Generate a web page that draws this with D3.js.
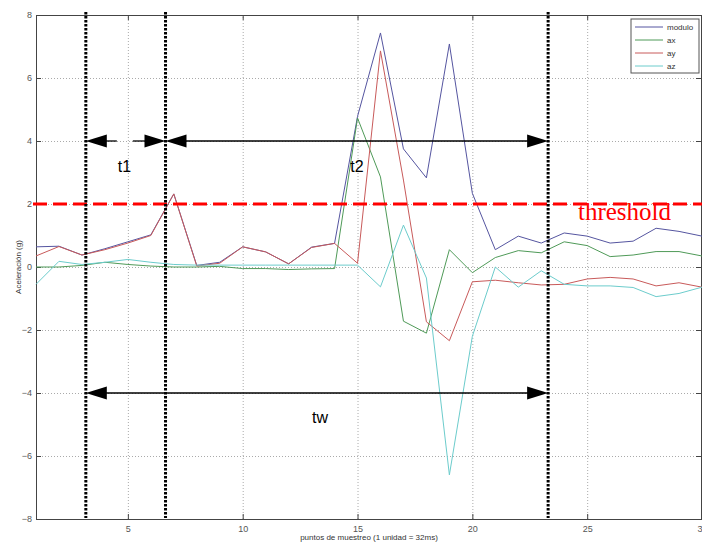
<!DOCTYPE html>
<html>
<head>
<meta charset="utf-8">
<script src="https://cdn.jsdelivr.net/npm/d3@7"></script>
<style>
  body { margin: 0; background: #fff; }
  svg { font-family: "Liberation Sans", Arial, sans-serif; }
</style>
</head>
<body>
<div id="chart"></div>
<script>
// sample index (1 unidad = 32ms)
var samples = [1,2,3,4,5,6,7,8,9,10,11,12,13,14,15,16,17,18,19,20,21,22,23,24,25,26,27,28,29,30];
var modulo = [0.64,0.66,0.38,0.58,0.80,1.02,2.32,0.05,0.15,0.64,0.48,0.10,0.63,0.75,4.78,7.43,3.75,2.83,7.08,2.34,0.55,0.98,0.76,1.08,0.98,0.76,0.82,1.23,1.13,0.98];
var ax = [0.00,0.00,0.05,0.15,0.08,0.03,0.00,0.00,0.02,-0.05,-0.05,-0.08,-0.06,-0.05,4.73,2.86,-1.72,-2.10,0.55,-0.18,0.30,0.52,0.45,0.80,0.68,0.33,0.38,0.49,0.49,0.35];
var ay = [0.35,0.65,0.38,0.55,0.76,1.00,2.32,0.03,0.12,0.64,0.48,0.10,0.62,0.75,0.12,6.86,2.76,-1.74,-2.34,-0.47,-0.42,-0.50,-0.57,-0.55,-0.38,-0.33,-0.38,-0.60,-0.50,-0.64];
var az = [-0.55,0.18,0.08,0.15,0.24,0.15,0.08,0.06,0.06,0.06,0.06,0.06,0.06,0.06,0.06,-0.63,1.33,-0.35,-6.60,-2.20,0.00,-0.64,-0.12,-0.55,-0.60,-0.60,-0.65,-0.94,-0.84,-0.64];

var seriesNames = ["modulo", "ax", "ay", "az"];
var seriesColors = ["#5555a0", "#4f9a58", "#c85a5a", "#6ccccc"];

var xTicks = [5, 10, 15, 20, 25, 30];
var yTicks = [-8, -6, -4, -2, 0, 2, 4, 6, 8];

// annotations
var threshold = 2;
var markers = [3.17, 6.64, 23.3];   // window limits
var arrowLevels = [4, -4];

var width = 702, height = 542;
var plot = { left: 36, right: 702, top: 15, bottom: 519 };

var x = d3.scaleLinear().domain([1, 30]).range([plot.left, plot.right]);
var y = d3.scaleLinear().domain([-8, 8]).range([plot.bottom, plot.top]);

var svg = d3.select("#chart").append("svg")
  .attr("width", width)
  .attr("height", height);

// grid lines
svg.append("g")
  .attr("transform", "translate(0," + plot.bottom + ")")
  .call(d3.axisBottom(x).tickValues(xTicks).tickSize(-(plot.bottom - plot.top)).tickFormat(""))
  .call(function (g) { g.select(".domain").remove(); })
  .selectAll("line")
  .attr("stroke", "#aaa")
  .attr("stroke-dasharray", "1,2");

svg.append("g")
  .attr("transform", "translate(" + plot.left + ",0)")
  .call(d3.axisLeft(y).tickValues(yTicks).tickSize(-(plot.right - plot.left)).tickFormat(""))
  .call(function (g) { g.select(".domain").remove(); })
  .selectAll("line")
  .attr("stroke", "#aaa")
  .attr("stroke-dasharray", "1,2");

// axes (ticks pointing inward)
var xAxis = svg.append("g")
  .attr("transform", "translate(0," + plot.bottom + ")")
  .call(d3.axisBottom(x).tickValues(xTicks).tickSizeInner(-5).tickSizeOuter(0).tickPadding(5));
var yAxis = svg.append("g")
  .attr("transform", "translate(" + plot.left + ",0)")
  .call(d3.axisLeft(y).tickValues(yTicks).tickSizeInner(-5).tickSizeOuter(0).tickPadding(4));
var xTop = svg.append("g")
  .attr("transform", "translate(0," + plot.top + ")")
  .call(d3.axisTop(x).tickValues(xTicks).tickSizeInner(-5).tickSizeOuter(0).tickFormat(""));
var yRight = svg.append("g")
  .attr("transform", "translate(" + (plot.right - 1) + ",0)")
  .call(d3.axisRight(y).tickValues(yTicks).tickSizeInner(-5).tickSizeOuter(0).tickFormat(""));

[xAxis, yAxis, xTop, yRight].forEach(function (g) {
  g.selectAll(".domain").attr("stroke", "#444");
  g.selectAll(".tick line").attr("stroke", "#444");
  g.selectAll("text").attr("fill", "#555").style("font-size", "9px");
});
xAxis.selectAll("text").attr("dy", "0.9em");

// axis labels
svg.append("text")
  .attr("x", (plot.left + plot.right) / 2)
  .attr("y", 540)
  .style("text-anchor", "middle")
  .style("font-size", "8px")
  .attr("fill", "#333")
  .text("puntos de muestreo (1 unidad = 32ms)");

svg.append("text")
  .attr("transform", "rotate(-90)")
  .attr("x", -(plot.top + plot.bottom) / 2)
  .attr("y", 21)
  .style("text-anchor", "middle")
  .style("font-size", "8px")
  .attr("fill", "#333")
  .text("Aceleración (g)");

// data lines
var allSeries = [modulo, ax, ay, az];
var line = d3.line()
  .x(function (d, i) { return x(samples[i]); })
  .y(function (d) { return y(d); });

svg.append("g").selectAll("path")
  .data(allSeries)
  .enter().append("path")
  .attr("d", line)
  .attr("fill", "none")
  .attr("stroke", function (d, i) { return seriesColors[i]; })
  .attr("stroke-width", 1);

// threshold
svg.append("line")
  .attr("x1", plot.left - 3)
  .attr("x2", plot.right)
  .attr("y1", y(threshold))
  .attr("y2", y(threshold))
  .attr("stroke", "#ff0000")
  .attr("stroke-width", 3)
  .attr("stroke-dasharray", "14,6");

svg.append("text")
  .attr("x", 578)
  .attr("y", y(threshold) + 16)
  .attr("fill", "#ff0000")
  .style("font-family", "'Liberation Serif', 'Times New Roman', serif")
  .style("font-size", "25px")
  .text("threshold");

// vertical window markers
svg.append("g").selectAll("line")
  .data(markers)
  .enter().append("line")
  .attr("x1", function (d) { return x(d); })
  .attr("x2", function (d) { return x(d); })
  .attr("y1", 12)
  .attr("y2", 518)
  .attr("stroke", "#000")
  .attr("stroke-width", 3)
  .attr("stroke-dasharray", "2.5,1.5");

// arrows
function arrowHead(px, py, dir) {
  // dir = -1 points left, 1 points right
  var len = 21, hw = 6.5;
  return "M" + px + "," + py +
    "L" + (px - dir * len) + "," + (py - hw) +
    "L" + (px - dir * len) + "," + (py + hw) + "Z";
}

function drawSegment(x1, x2, py) {
  svg.append("line")
    .attr("x1", x1).attr("x2", x2)
    .attr("y1", py).attr("y2", py)
    .attr("stroke", "#000")
    .attr("stroke-width", 1.3);
}

var yTop = y(arrowLevels[0]), yLow = y(arrowLevels[1]);
var m0 = x(markers[0]), m1 = x(markers[1]), m2 = x(markers[2]);

// t1
drawSegment(m0 + 20, m0 + 31, yTop);
drawSegment(m0 + 47, m1 - 20, yTop);
svg.append("path").attr("d", arrowHead(m0, yTop, -1));
svg.append("path").attr("d", arrowHead(m1, yTop, 1));
// t2
drawSegment(m1 + 20, m2 - 20, yTop);
svg.append("path").attr("d", arrowHead(m1, yTop, -1));
svg.append("path").attr("d", arrowHead(m2, yTop, 1));
// tw
drawSegment(m0 + 20, m2 - 20, yLow);
svg.append("path").attr("d", arrowHead(m0, yLow, -1));
svg.append("path").attr("d", arrowHead(m2, yLow, 1));

var labels = [
  { t: "t1", x: 124.5, y: 172 },
  { t: "t2", x: 357, y: 172 },
  { t: "tw", x: 320, y: 423 }
];
svg.append("g").selectAll("text")
  .data(labels)
  .enter().append("text")
  .attr("x", function (d) { return d.x; })
  .attr("y", function (d) { return d.y; })
  .style("text-anchor", "middle")
  .style("font-size", "16px")
  .attr("fill", "#000")
  .text(function (d) { return d.t; });

// legend
var legend = svg.append("g").attr("transform", "translate(631,19)");
legend.append("rect")
  .attr("width", 68)
  .attr("height", 54)
  .attr("fill", "#fff")
  .attr("stroke", "#555");
var items = legend.selectAll(".item")
  .data(seriesNames)
  .enter().append("g")
  .attr("class", "item")
  .attr("transform", function (d, i) { return "translate(0," + (8 + i * 13) + ")"; });
items.append("line")
  .attr("x1", 4).attr("x2", 32)
  .attr("stroke", function (d, i) { return seriesColors[i]; })
  .attr("stroke-width", 1);
items.append("text")
  .attr("x", 36)
  .attr("dy", "0.35em")
  .style("font-size", "8px")
  .attr("fill", "#333")
  .text(function (d) { return d; });
</script>
</body>
</html>
